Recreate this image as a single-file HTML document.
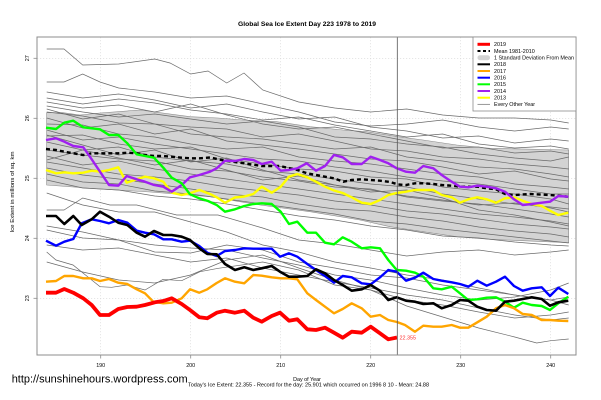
<!DOCTYPE html>
<html><head><meta charset="utf-8"><style>
html,body{margin:0;padding:0;background:#fff;width:601px;height:400px;overflow:hidden}
svg{display:block}
text{font-family:"Liberation Sans",Arial,sans-serif;fill:#000}
</style></head><body>
<svg width="601" height="400" viewBox="0 0 601 400" xmlns="http://www.w3.org/2000/svg">
<rect x="0" y="0" width="601" height="400" fill="#fff"/>
<text x="307" y="26.2" font-size="6.3" font-weight="bold" text-anchor="middle" textLength="138" lengthAdjust="spacingAndGlyphs">Global Sea Ice Extent Day 223 1978 to 2019</text>
<g stroke="#d8d8d8" stroke-width="0.6" stroke-dasharray="1.2,1.8">
<line x1="100.7" y1="37" x2="100.7" y2="355"/><line x1="190.7" y1="37" x2="190.7" y2="355"/><line x1="280.7" y1="37" x2="280.7" y2="355"/><line x1="370.7" y1="37" x2="370.7" y2="355"/><line x1="460.7" y1="37" x2="460.7" y2="355"/><line x1="550.7" y1="37" x2="550.7" y2="355"/>
<line x1="37" y1="58.3" x2="576" y2="58.3"/><line x1="37" y1="118.3" x2="576" y2="118.3"/><line x1="37" y1="178.3" x2="576" y2="178.3"/><line x1="37" y1="238.3" x2="576" y2="238.3"/><line x1="37" y1="298.3" x2="576" y2="298.3"/>
</g>
<polygon fill="#d3d3d3" stroke="#8a8a8a" stroke-width="0.6" points="46.7,112.7 63,112.7 80,115 100,113 140,110 190,116.7 218,118 243,120 276.7,121.7 310,126.7 343,130 366.7,131.7 398,136.7 423,140 456.7,145 490,148.3 568.7,150 568.7,242.7 490,239.3 456.7,236.7 423,231.7 390,226.7 360,220 310,211.7 260,205 210,196.7 150,192 100,189 46.7,185"/>
<g fill="none" stroke="#6a6a6a" stroke-width="0.7">
<polyline points="46.7,49 64,49 82.7,65 118.7,64 154.7,59 170,63 190.7,74 208,71 226.7,83 244,73 262.7,90 298.7,102 334.7,108 370.7,112 406.7,109 442.7,115 478.7,118 514.7,118 550.7,120 568.7,123"/>
<polyline points="46.7,82 64,82 82.7,74 100,82 118.7,88 154.7,92 190.7,98 226.7,96 262.7,104 298.7,112 334.7,122 370.7,126 406.7,124 442.7,120 478.7,127 514.7,131 550.7,127 568.7,129"/>
<polyline points="46.7,92 82.7,98 118.7,94 154.7,100 190.7,108 226.7,104 262.7,112 298.7,119 334.7,117 370.7,127 406.7,131 442.7,138 478.7,136 514.7,143 550.7,139 568.7,141"/>
<polyline points="46.7,98 82.7,104 118.7,99 154.7,103 190.7,110 226.7,114 262.7,120 298.7,117 334.7,125 370.7,131 406.7,137 442.7,134 478.7,144 514.7,148 550.7,146 568.7,149"/>
<polyline points="46.7,102 82.7,108 118.7,105 154.7,112 190.7,104 226.7,115 262.7,124 298.7,129 334.7,127 370.7,134 406.7,141 442.7,148 478.7,147 514.7,153 550.7,151 568.7,154"/>
<polyline points="46.7,106 82.7,112 118.7,117 154.7,114 190.7,119 226.7,124 262.7,121 298.7,127 334.7,137 370.7,139 406.7,144 442.7,147 478.7,154 514.7,158 550.7,161 568.7,157"/>
<polyline points="46.7,109 82.7,119 118.7,114 154.7,124 190.7,127 226.7,129 262.7,137 298.7,134 334.7,141 370.7,149 406.7,151 442.7,157 478.7,159 514.7,164 550.7,167 568.7,169"/>
<polyline points="46.7,112 82.7,116 118.7,123 154.7,124 190.7,134 226.7,137 262.7,139 298.7,144 334.7,149 370.7,147 406.7,157 442.7,161 478.7,167 514.7,169 550.7,174 568.7,177"/>
<polyline points="46.7,118 82.7,128 118.7,124 154.7,134 190.7,129 226.7,141 262.7,145 298.7,149 334.7,154 370.7,159 406.7,161 442.7,167 478.7,174 514.7,171 550.7,179 568.7,181"/>
<polyline points="46.7,124 82.7,125 118.7,134 154.7,137 190.7,144 226.7,149 262.7,147 298.7,157 334.7,161 370.7,164 406.7,169 442.7,174 478.7,177 514.7,184 550.7,187 568.7,189"/>
<polyline points="46.7,130 82.7,140 118.7,137 154.7,144 190.7,149 226.7,154 262.7,159 298.7,161 334.7,167 370.7,171 406.7,177 442.7,181 478.7,184 514.7,189 550.7,194 568.7,194"/>
<polyline points="46.7,136 82.7,135 118.7,144 154.7,149 190.7,147 226.7,159 262.7,164 298.7,169 334.7,171 370.7,177 406.7,179 442.7,187 478.7,191 514.7,194 550.7,199 568.7,204"/>
<polyline points="46.7,142 82.7,150 118.7,147 154.7,157 190.7,161 226.7,164 262.7,171 298.7,174 334.7,179 370.7,184 406.7,187 442.7,194 478.7,199 514.7,204 550.7,207 568.7,209"/>
<polyline points="46.7,150 82.7,155 118.7,159 154.7,161 190.7,169 226.7,171 262.7,177 298.7,181 334.7,187 370.7,189 406.7,197 442.7,201 478.7,204 514.7,209 550.7,214 568.7,217"/>
<polyline points="46.7,156 82.7,165 118.7,161 154.7,169 190.7,174 226.7,179 262.7,184 298.7,189 334.7,194 370.7,199 406.7,204 442.7,209 478.7,214 514.7,217 550.7,221 568.7,224"/>
<polyline points="46.7,162 82.7,168 118.7,174 154.7,177 190.7,181 226.7,187 262.7,191 298.7,195 334.7,201 370.7,205 406.7,211 442.7,214 478.7,219 514.7,224 550.7,227 568.7,229"/>
<polyline points="46.7,168 82.7,175 118.7,179 154.7,184 190.7,189 226.7,194 262.7,197 298.7,204 334.7,209 370.7,211 406.7,217 442.7,221 478.7,227 514.7,231 550.7,234 568.7,237"/>
<polyline points="46.7,174 82.7,182 118.7,184 154.7,191 190.7,194 226.7,199 262.7,204 298.7,209 334.7,214 370.7,221 406.7,224 442.7,229 478.7,233 514.7,237 550.7,241 568.7,243"/>
<polyline points="46.7,180 82.7,188 118.7,190 154.7,196 190.7,199 226.7,204 262.7,210 298.7,216 334.7,220 370.7,226 406.7,230 442.7,236 478.7,238 514.7,242 550.7,245 568.7,246"/>
<polyline points="46.7,160 82.7,150 118.7,158 154.7,165 190.7,160 226.7,170 262.7,180 298.7,176 334.7,185 370.7,190 406.7,196 442.7,200 478.7,205 514.7,203 550.7,208 568.7,212"/>
<polyline points="46.7,135 82.7,145 118.7,155 154.7,150 190.7,162 226.7,158 262.7,170 298.7,180 334.7,185 370.7,192 406.7,190 442.7,198 478.7,210 514.7,215 550.7,222 568.7,226"/>
<polyline points="46.7,210 64,210 82.7,198 110,205 136.7,205 176.7,215 218,215 262.7,228 298.7,240 334.7,244 370.7,250 406.7,256 442.7,252 478.7,250 514.7,255 550.7,252 568.7,250"/>
<polyline points="46.7,230 82.7,238 118.7,240 154.7,252 190.7,253 226.7,245 262.7,250 298.7,262 334.7,268 370.7,275 406.7,278 442.7,285 478.7,290 514.7,295 550.7,300 568.7,305"/>
<polyline points="46.7,252 56,260 73,265 91.7,280 100,286.7 111.7,287.3 126.7,285 145,290 163,279.3 181.7,280.7 200,271.7 218.3,268.3 262.7,262 298.7,270 334.7,285 370.7,290 406.7,300 442.7,305 478.7,312 514.7,318 550.7,315 568.7,312"/>
<polyline points="46.7,226 82.7,232 118.7,240 154.7,245 190.7,248 226.7,250 262.7,258 298.7,265 334.7,275 370.7,280 406.7,288 442.7,295 478.7,300 514.7,297 550.7,290 568.7,283"/>
<polyline points="46.7,262 82.7,272 118.7,280 154.7,283 190.7,275 226.7,260 262.7,255 298.7,268 334.7,280 370.7,290 406.7,306 442.7,317 478.7,328 514.7,337 536.7,343 550.7,340.7 568.7,339"/>
<polyline points="46.7,193 82.7,205 118.7,212 154.7,212 190.7,222 226.7,232 262.7,245 298.7,252 334.7,262 370.7,268 406.7,275 442.7,280 478.7,288 514.7,295 550.7,300 568.7,297"/>
<polyline points="46.7,245 82.7,250 118.7,248 154.7,255 190.7,262 226.7,258 262.7,268 298.7,275 334.7,282 370.7,288 406.7,295 442.7,300 478.7,308 514.7,315 550.7,320 568.7,318"/>
</g>
<polyline fill="none" stroke="#000" stroke-width="2.4" stroke-dasharray="4,3" points="46,149 56,150 64.3,151.7 73.3,153.3 83.3,155 91.7,153.3 100,153.3 109,153.3 118.3,153.3 127.3,152.7 136.7,153.3 145,155 154,156 163.3,156 171.7,156.7 181.7,157.7 190,158.3 199.3,158.3 210,157.5 225,160.7 244.3,163.3 261.7,166 280,166 297.3,170 307.3,173.3 325,176.7 334,178.3 343.3,181.7 351.7,180 361.7,179.3 370.7,180 380,180.7 390,182 398.3,184.5 406,185 415,183.3 423.3,183.3 433.3,184 441.7,185 451.7,185.7 460,186.7 477.3,186.7 486.7,188.3 496,189.3 505,194 514,195 530,194 550,195 568,196.7"/>
<g fill="none" stroke-width="2.4" stroke-linejoin="round">
<polyline stroke="#ffff00" points="46,170 56,173.3 64.3,172.3 73.3,173.3 83.3,172.7 91.7,170.7 100,171.7 109,170 118.3,167.3 126.7,182.7 136.7,179.3 145,176.7 154,178.3 163.3,181.7 171.7,192.7 181.7,195 190,193.3 199.3,190 210,194 216.7,197.3 225,202.7 235,197.5 244.3,196.5 253.3,194 261.7,186.7 271.7,192.7 280.7,186.7 289,176.7 297.3,174 307.3,177.3 316,181.7 325,186.7 334,190.5 342.7,193 351.7,197.3 361.7,202.7 370.7,204 380,200 388.3,195 396.7,193 406,191.7 415,190 423.3,190 433.3,190 441.7,195 451.7,197.3 460,202.7 468.3,199.3 477.3,197.3 486.7,199.3 496,202.7 505,198.3 514,197.3 522.7,200.7 531.7,204 541.7,206 550,210.7 558.3,215 568.3,212.7"/>
<polyline stroke="#a020f0" points="46,140 56,138.3 64.3,141.7 73.3,146 83.3,147.3 91.7,159.3 100,171.7 109,185 118.3,185.7 126.7,176 136.7,179.3 145,181.7 154,185 163.3,186.7 171.7,191.7 181.7,185 190,177.3 199.3,175 210,171.7 216.7,168.3 225,160.7 235,161 244.3,159 253.3,160 261.7,164 271.7,161.7 280.7,170.7 289,170 297.3,168.3 306.7,163.3 316,170.7 325,166 334,155 342.7,157.3 351.7,164 361.7,164 370.7,156.7 380,160 388.3,163.3 396.7,168.3 406,171.7 415,172.7 423.3,166 433.3,168.3 441.7,175 451.7,181.7 460,186.7 468.3,187.3 477.3,185.7 486.7,186.7 496,188.3 505,191.7 514,199.3 522.7,205 531.7,204 541.7,202.7 550,201.7 558.3,196 568.3,196.7"/>
<polyline stroke="#00ff00" points="46,127.7 56,129 64.3,122.7 73.3,120.7 83.3,127.3 91.7,128.3 100,129.3 109,135 118.3,135 127.3,143.3 136.7,154.3 145,156 154,157.7 163.3,167.7 171.7,177.7 181.7,183.3 190,194.3 199.3,198.3 208,201 216.7,205 225,211.7 235,209.3 244.3,206 253.3,204 261.7,203.3 271.7,204 280.7,211.7 289,224 297.3,221.7 307.3,232.7 316,232.7 325,242.7 334,244.3 342.7,237.3 351.7,241.7 361.7,248.3 370.7,247.3 380,248.3 388.3,260 396.7,270 406,270.7 415,272.7 423.3,276.7 433.3,288.3 441.7,289.3 451.7,286.7 460,293.3 468.3,300 477.3,299.3 486.7,297.7 496,297.3 505,301.7 514,307.7 522.7,302.7 531.7,305 541.7,306 550,310 558.3,303.3 568.3,296.7"/>
<polyline stroke="#0000ff" points="46,240.7 56,245.7 64.3,241.7 73.3,239 81.7,223.3 91.7,219.3 100,221 109,223.3 118.3,220 127.3,222.7 136.7,230.7 145,232.7 154,234.3 163.3,239.3 171.7,239.3 181.7,241.7 190,240.7 199.3,246 207.3,252.7 216.7,256 225,251 235,250 244.3,248.3 253.3,248.7 261.7,248.7 271.7,248.7 280,256.7 289,253.3 297.3,256.7 307.3,264 316,270 325,276 334,282.7 342.7,276 351.7,277.3 361.7,283.3 370.7,284.3 380,277.3 388.3,270 396.7,271.7 406,280.7 415,277.7 423.3,272.7 433.3,279 441.7,280.7 451.7,282.3 460,284 468.3,286.7 477.3,280.7 486.7,285.7 496,281.7 505,276.7 514,286 522.7,290.7 531.7,288.3 541.7,287.3 550,296 558.3,287.7 568.3,294"/>
<polyline stroke="#ffa500" points="46,281.7 56,281 64.3,276 73.3,276 83.3,278.3 91.7,278.3 100,281 109,279 118.3,282.7 127.3,284 136.7,289.3 145,293.3 153.3,301.7 163.3,303.3 171.7,302.7 181.7,298.3 190,289.3 199.3,292.7 207.3,289.3 216.7,283 225,278.3 235,281.7 244.3,283.3 253.3,275 261.7,275.7 271.7,277.3 280.7,278.3 289,278.3 297.3,279.3 307.3,293.3 316,300 325,306.7 334,313.3 342.7,309 351.7,303.3 361.7,308.3 370.7,316.7 380,315 388.3,320 397,322 405,325 415,331.7 423.3,325.7 433.3,326.7 441.7,326.7 451.7,325 460,327.7 468.3,327.7 477.3,322.3 486.7,316.7 496,308.3 505,305 514,308.3 522.7,314 531.7,315 541.7,320 550,320 558.3,320.7 568.3,321"/>
<polyline stroke="#000" stroke-width="2.6" points="46,216 56,216 64.3,224 73.3,216 81.7,225 91.7,219.3 100,211.7 109,216.7 118.3,222.7 127.3,225 136.7,232.7 145,236.7 154,231 163.3,235 171.7,235 181.7,236.7 190,240 199.3,248.3 207.3,254 216.7,254.3 225,264 235,270 244.3,267.3 253.3,270 261.7,268.3 271.7,266 280,271.7 289,276.7 297.3,276.7 307.3,276 316,269.3 325,273.3 334,280 342.7,285 351.7,290.7 361.7,289.3 370.7,285 380,290.7 388.3,300 396.7,297.3 406,300.7 415,301.7 423.3,304 433.3,303.3 441.7,308.3 451.7,305 460,300 468.3,300.7 477.3,306.7 486.7,310 496,310.7 505,301.7 514,300.7 522.7,299 531.7,297.3 541.7,299 550,305.7 558.3,302.3 568.3,300.7"/>
<polyline stroke="#ff0000" stroke-width="3.8" points="46,292.7 56,292.7 64.3,289 73.3,292.7 83.3,298.3 91.7,305 100,315 109,315 118.3,309 127.3,307 136.7,306.7 145,305 155,302.3 163.3,301 171.7,298.3 181.7,304 190,310 199.3,317.3 207.3,318.3 216.7,312.7 225,310.7 235,312.7 244.3,310.7 253.3,317.7 261.7,321.7 271.7,316 280,312.7 289,320.7 297.3,319.3 307.3,329.3 316,330 325,327.7 334,332.7 342.7,337.7 351.7,331.7 361.7,332.7 370.7,326.7 380,333.3 388.3,339.3 397,337.5"/>
</g>
<text x="399.5" y="339.5" font-size="5.4" style="fill:#ff3030">22.355</text>
<line x1="397.3" y1="37" x2="397.3" y2="355" stroke="#555" stroke-width="0.8"/>
<rect x="37" y="37" width="539" height="318" fill="none" stroke="#8c8c8c" stroke-width="1"/>
<g stroke="#8c8c8c" stroke-width="0.8">
<line x1="100.7" y1="355" x2="100.7" y2="358.5"/><line x1="190.7" y1="355" x2="190.7" y2="358.5"/><line x1="280.7" y1="355" x2="280.7" y2="358.5"/><line x1="370.7" y1="355" x2="370.7" y2="358.5"/><line x1="460.7" y1="355" x2="460.7" y2="358.5"/><line x1="550.7" y1="355" x2="550.7" y2="358.5"/>
<line x1="33.5" y1="58.3" x2="37" y2="58.3"/><line x1="33.5" y1="118.3" x2="37" y2="118.3"/><line x1="33.5" y1="178.3" x2="37" y2="178.3"/><line x1="33.5" y1="238.3" x2="37" y2="238.3"/><line x1="33.5" y1="298.3" x2="37" y2="298.3"/>
</g>
<g font-size="5.4" text-anchor="middle">
<text x="100.7" y="367">190</text><text x="190.7" y="367">200</text><text x="280.7" y="367">210</text><text x="370.7" y="367">220</text><text x="460.7" y="367">230</text><text x="550.7" y="367">240</text>
<text transform="translate(29,58.3) rotate(-90)">27</text>
<text transform="translate(29,118.3) rotate(-90)">26</text>
<text transform="translate(29,178.3) rotate(-90)">25</text>
<text transform="translate(29,238.3) rotate(-90)">24</text>
<text transform="translate(29,298.3) rotate(-90)">23</text>
<text transform="translate(14,192) rotate(-90)" textLength="81" lengthAdjust="spacingAndGlyphs">Ice Extent in millions of sq. km</text>
<text x="307" y="381">Day of Year</text>
</g>
<text x="11.7" y="382.5" font-size="11" textLength="176" lengthAdjust="spacingAndGlyphs">http://sunshinehours.wordpress.com</text>
<text x="188" y="386.5" font-size="5.2" textLength="241" lengthAdjust="spacingAndGlyphs">Today's Ice Extent: 22.355  - Record for the day: 25.901 which occurred on 1996 8 10  - Mean: 24.88</text>
<rect x="473" y="37" width="103" height="74" fill="#fff" stroke="#8c8c8c" stroke-width="0.8"/>
<g fill="none">
<line x1="477.5" y1="44.3" x2="490" y2="44.3" stroke="#ff0000" stroke-width="3"/>
<line x1="477.5" y1="51" x2="490" y2="51" stroke="#000" stroke-width="2" stroke-dasharray="3,2.5"/>
<rect x="477.5" y="55.2" width="12.5" height="5" rx="2.5" fill="#d3d3d3"/>
<line x1="477.5" y1="64.3" x2="490" y2="64.3" stroke="#000" stroke-width="2"/>
<line x1="477.5" y1="71" x2="490" y2="71" stroke="#ffa500" stroke-width="2"/>
<line x1="477.5" y1="77.7" x2="490" y2="77.7" stroke="#0000ff" stroke-width="2"/>
<line x1="477.5" y1="84.3" x2="490" y2="84.3" stroke="#00ff00" stroke-width="2"/>
<line x1="477.5" y1="91" x2="490" y2="91" stroke="#a020f0" stroke-width="2"/>
<line x1="477.5" y1="97.7" x2="490" y2="97.7" stroke="#ffff00" stroke-width="2"/>
<line x1="477.5" y1="104.3" x2="490" y2="104.3" stroke="#6a6a6a" stroke-width="0.7"/>
</g>
<g font-size="5.4">
<text x="494" y="46.2">2019</text>
<text x="494" y="52.9">Mean 1981-2010</text>
<text x="494" y="59.6" textLength="80" lengthAdjust="spacingAndGlyphs">1 Standard Deviation From Mean</text>
<text x="494" y="66.2">2018</text>
<text x="494" y="72.9">2017</text>
<text x="494" y="79.6">2016</text>
<text x="494" y="86.2">2015</text>
<text x="494" y="92.9">2014</text>
<text x="494" y="99.6">2013</text>
<text x="494" y="106.2">Every Other Year</text>
</g>
</svg>
</body></html>
